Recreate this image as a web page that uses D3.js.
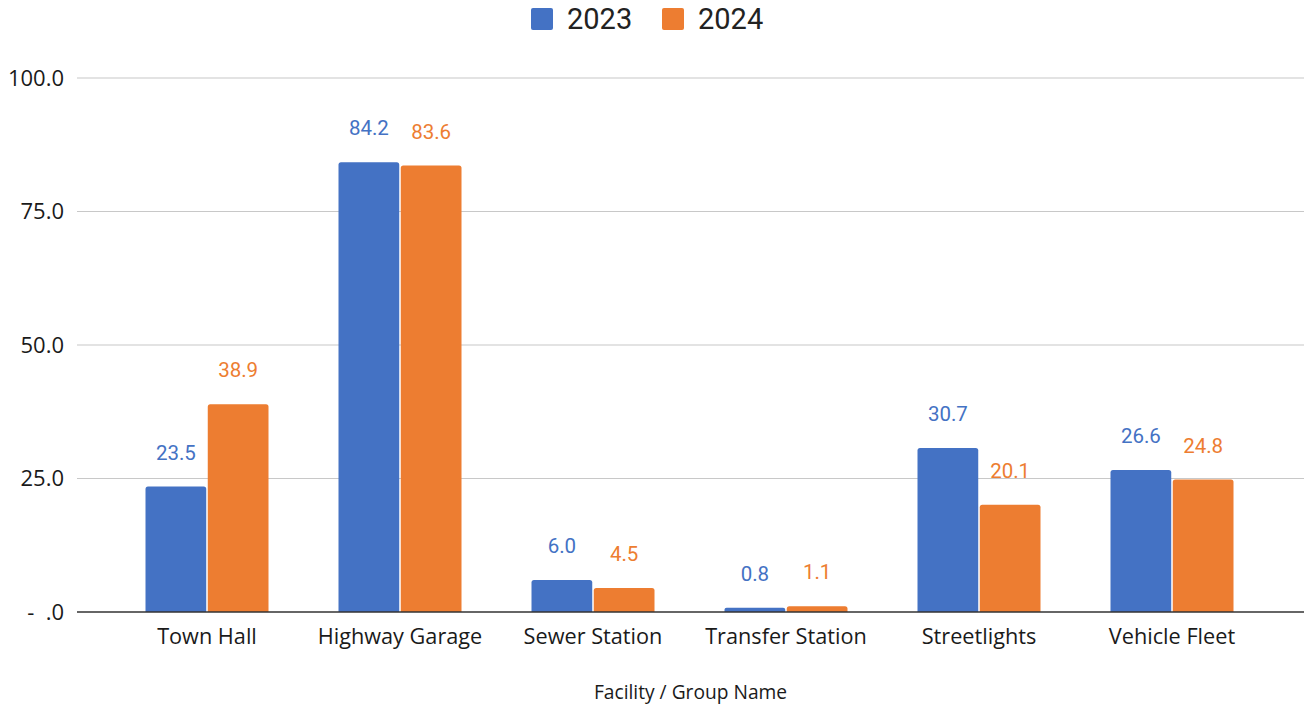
<!DOCTYPE html>
<html>
<head>
<meta charset="utf-8">
<script src="https://cdn.jsdelivr.net/npm/d3@7"></script>
<style>
  html, body { margin: 0; padding: 0; background: #fff; }
  svg { display: block; }
</style>
</head>
<body>
<svg id="chart" width="1304" height="708"></svg>
<script>
// Facility energy use by year
const categories = ["Town Hall", "Highway Garage", "Sewer Station", "Transfer Station", "Streetlights", "Vehicle Fleet"];
const seriesNames = ["2023", "2024"];
const values2023 = [23.5, 84.2, 6.0, 0.8, 30.7, 26.6];
const values2024 = [38.9, 83.6, 4.5, 1.1, 20.1, 24.8];
const yTicks = [0, 25, 50, 75, 100];
const colors = ["#4472C4", "#ED7D31"];
const xTitle = "Facility / Group Name";

const series = [values2023, values2024];

const svg = d3.select("#chart");
const plot = { left: 77, right: 1304, top: 78, bottom: 612 };
const axisFont = "'Open Sans', Lato, sans-serif";
const labelFont = "Roboto, Arial, sans-serif";

const y = d3.scaleLinear().domain([0, 100]).range([plot.bottom, plot.top]);
const x = d3.scaleBand().domain(categories).range([110.5, 1268.5]);
const barW = 60, barGap = 3;
const xs = d3.scaleBand().domain(seriesNames).range([0, barW * 2 + barGap]).paddingInner(barGap / (barW * 2 + barGap));

// Gridlines
svg.append("g").selectAll("line").data(yTicks.filter(d => d > 0)).join("line")
  .attr("x1", plot.left).attr("x2", plot.right)
  .attr("y1", d => y(d)).attr("y2", d => y(d))
  .attr("stroke", "#c8c8c8").attr("stroke-width", 1.2);

// Y tick labels (accounting style, zero shown as a dash)
const fmt = d => d === 0 ? "-  .0" : d.toFixed(1);
svg.append("g").selectAll("text").data(yTicks).join("text")
  .attr("x", 64).attr("y", d => y(d)).attr("dy", "0.35em")
  .attr("text-anchor", "end")
  .attr("font-family", axisFont)
  .attr("font-size", 22).attr("fill", "#1a1a1a")
  .attr("xml:space", "preserve")
  .text(fmt);

// Bars with value labels
const groups = svg.append("g").selectAll("g").data(categories).join("g")
  .attr("transform", d => `translate(${x(d) + (x.bandwidth() - (barW * 2 + barGap)) / 2},0)`);

groups.each(function(cat, i) {
  const g = d3.select(this);
  seriesNames.forEach((s, j) => {
    const v = series[j][i];
    g.append("path")
      .attr("d", () => {
        const x0 = xs(s), w = xs.bandwidth(), y0 = y(v), y1 = y(0), r = Math.min(2.5, (y1 - y0) / 2);
        return `M${x0},${y1}V${y0 + r}Q${x0},${y0} ${x0 + r},${y0}H${x0 + w - r}Q${x0 + w},${y0} ${x0 + w},${y0 + r}V${y1}Z`;
      })
      .attr("fill", colors[j]);
    g.append("text")
      .attr("x", xs(s) + xs.bandwidth() / 2)
      .attr("y", y(v) - 27)
      .attr("text-anchor", "middle")
      .attr("font-family", labelFont)
      .attr("font-size", 20.5)
      .attr("fill", colors[j])
      .text(v.toFixed(1));
  });
});

// Baseline
svg.append("line")
  .attr("x1", plot.left).attr("x2", plot.right)
  .attr("y1", y(0)).attr("y2", y(0))
  .attr("stroke", "#333").attr("stroke-width", 1.5);

// X category labels
svg.append("g").selectAll("text").data(categories).join("text")
  .attr("x", d => x(d) + x.bandwidth() / 2)
  .attr("y", 644)
  .attr("text-anchor", "middle")
  .attr("font-family", axisFont)
  .attr("font-size", 21.7).attr("fill", "#1a1a1a")
  .text(d => d);

// X axis title
svg.append("text")
  .attr("x", (plot.left + plot.right) / 2).attr("y", 699)
  .attr("text-anchor", "middle")
  .attr("font-family", axisFont)
  .attr("font-size", 19.2).attr("fill", "#1a1a1a")
  .text(xTitle);

// Legend
const legend = svg.append("g");
const legendItems = [{ name: seriesNames[0], x: 531 }, { name: seriesNames[1], x: 662 }];
legendItems.forEach((it, j) => {
  legend.append("rect").attr("x", it.x).attr("y", 8).attr("width", 22).attr("height", 22)
    .attr("rx", 2).attr("fill", colors[j]);
  legend.append("text").attr("x", it.x + 36).attr("y", 19).attr("dy", "0.36em")
    .attr("font-family", labelFont).attr("font-size", 29).attr("fill", "#222")
    .text(it.name);
});
</script>
</body>
</html>
